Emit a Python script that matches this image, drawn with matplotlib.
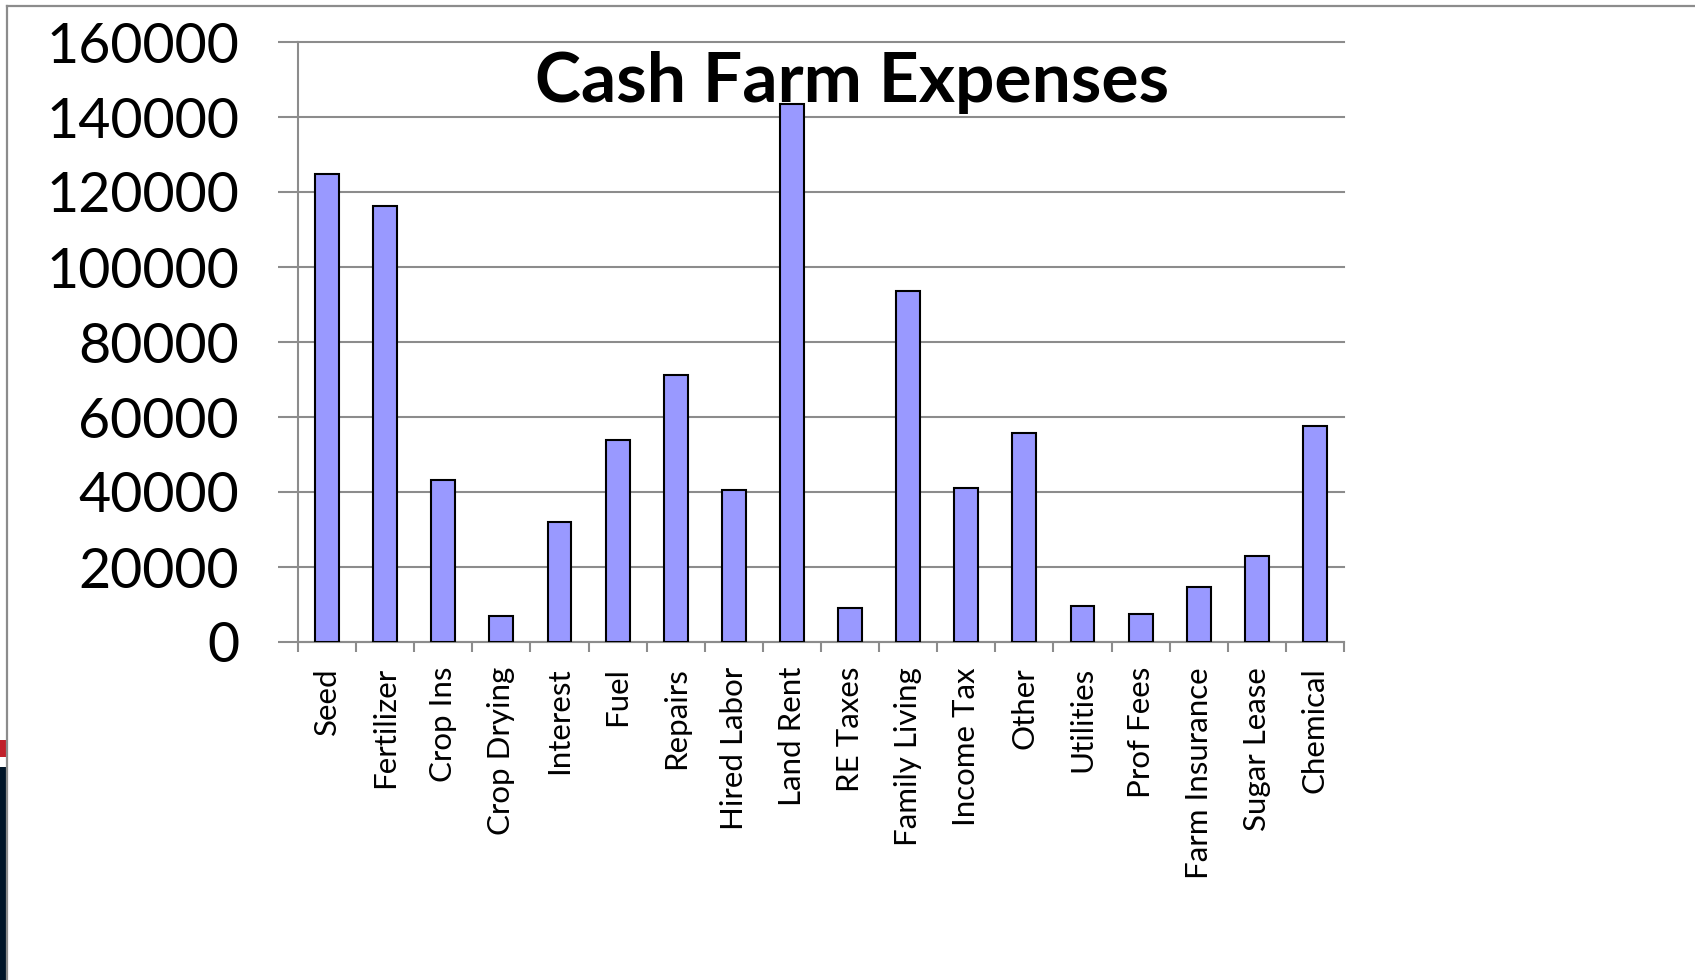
import matplotlib
matplotlib.use("Agg")
import matplotlib.pyplot as plt
from matplotlib.lines import Line2D
from matplotlib.patches import Rectangle

categories = ["Seed", "Fertilizer", "Crop Ins", "Crop Drying", "Interest", "Fuel",
              "Repairs", "Hired Labor", "Land Rent", "RE Taxes", "Family Living",
              "Income Tax", "Other", "Utilities", "Prof Fees", "Farm Insurance",
              "Sugar Lease", "Chemical"]
expenses = [124700, 116300, 43100, 6900, 32100, 53800, 71200, 40500, 143500,
            9000, 93500, 41100, 55800, 9500, 7600, 14600, 22900, 57600]
y_ticks = [0, 20000, 40000, 60000, 80000, 100000, 120000, 140000, 160000]
title = "Cash Farm Expenses"

W, H = 1695, 980
plt.rcParams["font.family"] = ["Lato", "DejaVu Sans"]
fig = plt.figure(figsize=(W / 100, H / 100), dpi=100)

grid_col = "#8c8c8c"

# slide frame and corner decoration
fig.add_artist(Line2D([7 / W, 1], [1 - 6 / H, 1 - 6 / H], color=grid_col, lw=1.6,
                      transform=fig.transFigure))
fig.add_artist(Line2D([7 / W, 7 / W], [0, 1 - 6 / H], color=grid_col, lw=1.6,
                      transform=fig.transFigure))
fig.add_artist(Rectangle((0, 1 - 757 / H), 6 / W, 17 / H, color="#c0202a",
                         transform=fig.transFigure, lw=0))
fig.add_artist(Rectangle((0, 0), 6 / W, (H - 767) / H, color="#001529",
                         transform=fig.transFigure, lw=0))

ax = fig.add_axes([298 / W, (H - 642) / H, 1046 / W, 600 / H])
x = list(range(len(categories)))
ax.bar(x, expenses, width=0.41, color="#9999ff", edgecolor="black", linewidth=1.5,
       zorder=3)

ax.set_xlim(-0.5, len(categories) - 0.5)
ax.set_ylim(0, 160000)
ax.set_yticks(y_ticks)
ax.set_yticklabels([str(v) for v in y_ticks], fontsize=40)
ax.yaxis.grid(True, color=grid_col, linewidth=1.5, zorder=0)
for gl in ax.yaxis.get_gridlines():
    gl.set_clip_on(False)
ax.tick_params(axis="y", length=14.4, width=1.5, color=grid_col, pad=28)

ax.set_xticks(x)
ax.set_xticklabels(categories, rotation=90, fontsize=22.5)
ax.set_xticks([i - 0.5 for i in range(len(categories) + 1)], minor=True)
ax.tick_params(axis="x", which="major", length=0, pad=18)
ax.tick_params(axis="x", which="minor", length=7.2, width=1.5, color=grid_col)

for s in ["top", "right"]:
    ax.spines[s].set_visible(False)
for s in ["left", "bottom"]:
    ax.spines[s].set_color(grid_col)
    ax.spines[s].set_linewidth(1.5)

fig.text(852 / W, 1 - 82 / H, title, ha="center", va="center", fontsize=50,
         fontweight="bold")

fig.savefig("out.png", dpi=100)
